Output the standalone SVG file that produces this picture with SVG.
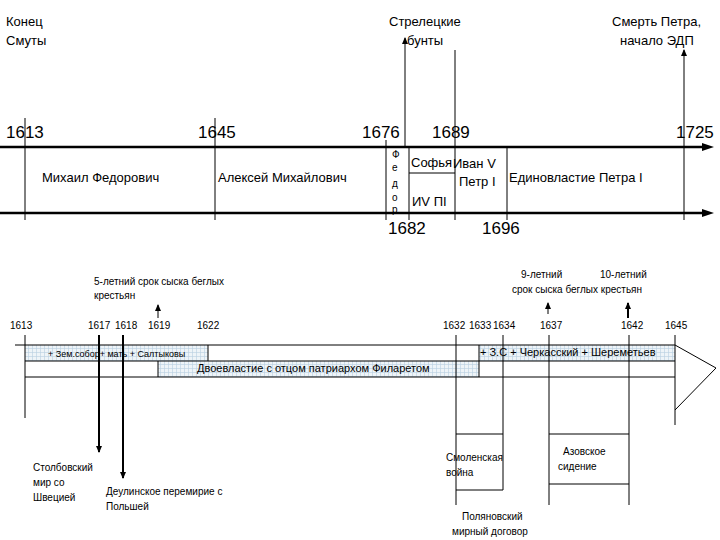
<svg xmlns="http://www.w3.org/2000/svg" width="720" height="540" viewBox="0 0 720 540">
<style>
text{font-family:"Liberation Sans",Arial,sans-serif;fill:#000}
.big{font-size:17px}
.mid{font-size:13px}
.sm{font-size:10px}
.ln{stroke:#000;stroke-width:1;fill:none}
.th{stroke:#000;stroke-width:2.5;fill:none}
</style>
<defs>
<marker id="ah" markerWidth="8" markerHeight="8" refX="6" refY="4" orient="auto" markerUnits="userSpaceOnUse"><path d="M0,1 L7,4 L0,7 Z" fill="#000"/></marker>
<pattern id="grid" width="4" height="4" patternUnits="userSpaceOnUse"><rect width="4" height="4" fill="#eef4f8"/><path d="M0,0.5H4M0.5,0V4" stroke="#b8cfe0" stroke-width="0.6"/></pattern>
</defs>
<g id="top-labels">
<text class="mid" x="6" y="26">Конец</text><text class="mid" x="6" y="45">Смуты</text>
<text class="mid" x="389" y="26">Стрелецкие</text><text class="mid" x="407" y="45">бунты</text>
<text class="mid" x="612" y="26">Смерть Петра,</text><text class="mid" x="620" y="45">начало ЭДП</text>
<text class="big" x="6" y="138">1613</text><text class="big" x="198" y="138">1645</text>
<text class="big" x="362" y="138">1676</text><text class="big" x="432" y="138">1689</text>
<text class="big" x="676" y="138">1725</text>
<text class="big" x="388" y="234">1682</text><text class="big" x="482" y="234">1696</text>
<text class="mid" x="42" y="182">Михаил Федорович</text>
<text class="mid" x="218" y="182">Алексей Михайлович</text>
<text class="sm" x="392" y="158" fill="#000">Ф</text><text class="sm" x="392" y="171">е</text><text class="sm" x="392" y="187">д</text><text class="sm" x="392" y="201">о</text><text class="sm" x="392" y="213">р</text>
<text class="mid" x="411" y="167">Софья</text>
<text class="mid" x="412" y="206">ИV ПI</text>
<text class="mid" x="453" y="168">Иван V</text>
<text class="mid" x="459" y="186">Петр I</text>
<text class="mid" x="509" y="182">Единовластие Петра I</text>
</g>
<g id="top-connectors">
<line class="th" x1="0" y1="147" x2="706" y2="147"/><path d="M702,143 L714,147 L702,151Z"/>
<line class="th" x1="0" y1="213" x2="706" y2="213"/><path d="M702,209 L714,213 L702,217Z"/>
<line class="ln" x1="25" y1="118" x2="25" y2="220"/>
<line class="ln" x1="215" y1="118" x2="215" y2="220"/>
<line class="ln" x1="386" y1="140" x2="386" y2="220"/>
<line class="ln" x1="409" y1="147" x2="409" y2="220"/>
<line class="ln" x1="455" y1="50" x2="455" y2="220"/>
<line class="ln" x1="507" y1="147" x2="507" y2="220"/>
<line class="ln" x1="684" y1="220" x2="684" y2="50" marker-end="url(#ah)"/>
<line class="ln" x1="409" y1="173" x2="455" y2="173"/>
<line class="ln" x1="405" y1="147" x2="405" y2="38" marker-end="url(#ah)"/>
</g>
<g id="bottom-band">
<rect x="25" y="345" width="183" height="16" fill="url(#grid)"/>
<rect x="479" y="345" width="196" height="16" fill="url(#grid)"/>
<rect x="158" y="361" width="321" height="16" fill="url(#grid)"/>
<line class="ln" x1="15" y1="345" x2="675" y2="345"/>
<line class="ln" x1="25" y1="361" x2="675" y2="361"/>
<line class="ln" x1="25" y1="377" x2="675" y2="377"/>
<line class="ln" x1="208" y1="345" x2="208" y2="361"/>
<line class="ln" x1="479" y1="345" x2="479" y2="377"/>
<line class="ln" x1="158" y1="361" x2="158" y2="377"/>
<path class="ln" d="M675,345 L716,368 L675,410"/>
<text x="48" y="357" style="font-size:9px">+ Зем.собор+ мать + Салтыковы</text>
<text x="197" y="372" style="font-size:11px">Двоевластие с отцом патриархом Филаретом</text>
<text x="480" y="356" style="font-size:11px">+ З.С + Черкасский + Шереметьев</text>
</g>
<g id="bottom-labels">
<text class="sm" x="10" y="329">1613</text><text class="sm" x="88" y="329">1617</text><text class="sm" x="115" y="329">1618</text>
<text class="sm" x="148" y="329">1619</text><text class="sm" x="197" y="329">1622</text>
<text class="sm" x="443" y="329">1632</text><text class="sm" x="469" y="329">1633</text><text class="sm" x="493" y="329">1634</text>
<text class="sm" x="540" y="329">1637</text><text class="sm" x="621" y="329">1642</text><text class="sm" x="665" y="329">1645</text>
<text class="sm" x="94" y="285">5-летний срок сыска беглых</text><text class="sm" x="94" y="299">крестьян</text>
<text class="sm" x="521" y="278">9-летний</text><text class="sm" x="600" y="278">10-летний</text>
<text class="sm" x="512" y="293">срок сыска беглых крестьян</text>
<text class="sm" x="33" y="471">Столбовский</text><text class="sm" x="33" y="486">мир со</text><text class="sm" x="33" y="501">Швецией</text>
<text class="sm" x="106" y="495">Деулинское перемирие с</text><text class="sm" x="106" y="510">Польшей</text>
<text class="sm" x="446" y="461">Смоленская</text><text class="sm" x="446" y="476">война</text>
<text class="sm" x="563" y="455">Азовское</text><text class="sm" x="558" y="470">сидение</text>
<text class="sm" x="462" y="520">Поляновский</text><text class="sm" x="452" y="535">мирный договор</text>
</g>
<g id="bottom-connectors">
<line class="ln" x1="25" y1="335" x2="25" y2="418"/>
<line class="th" x1="99" y1="335" x2="99" y2="452" marker-end="url(#ah)" style="stroke-width:2"/>
<line class="th" x1="123" y1="335" x2="123" y2="478" marker-end="url(#ah)" style="stroke-width:2"/>
<line class="ln" x1="158" y1="318" x2="158" y2="305" marker-end="url(#ah)"/>
<line class="ln" x1="548" y1="314" x2="548" y2="303" marker-end="url(#ah)"/>
<line class="th" x1="628" y1="318" x2="628" y2="303" marker-end="url(#ah)" style="stroke-width:2"/>
<line class="ln" x1="456" y1="335" x2="456" y2="505"/>
<line class="ln" x1="503" y1="335" x2="503" y2="490"/>
<line class="ln" x1="456" y1="434" x2="503" y2="434"/>
<line class="ln" x1="456" y1="490" x2="503" y2="490"/>
<line class="ln" x1="549" y1="335" x2="549" y2="505"/>
<line class="ln" x1="629" y1="335" x2="629" y2="505"/>
<line class="ln" x1="549" y1="434" x2="629" y2="434"/>
<line class="ln" x1="549" y1="484" x2="629" y2="484"/>
<line class="ln" x1="675" y1="335" x2="675" y2="425"/>
</g>
</svg>
